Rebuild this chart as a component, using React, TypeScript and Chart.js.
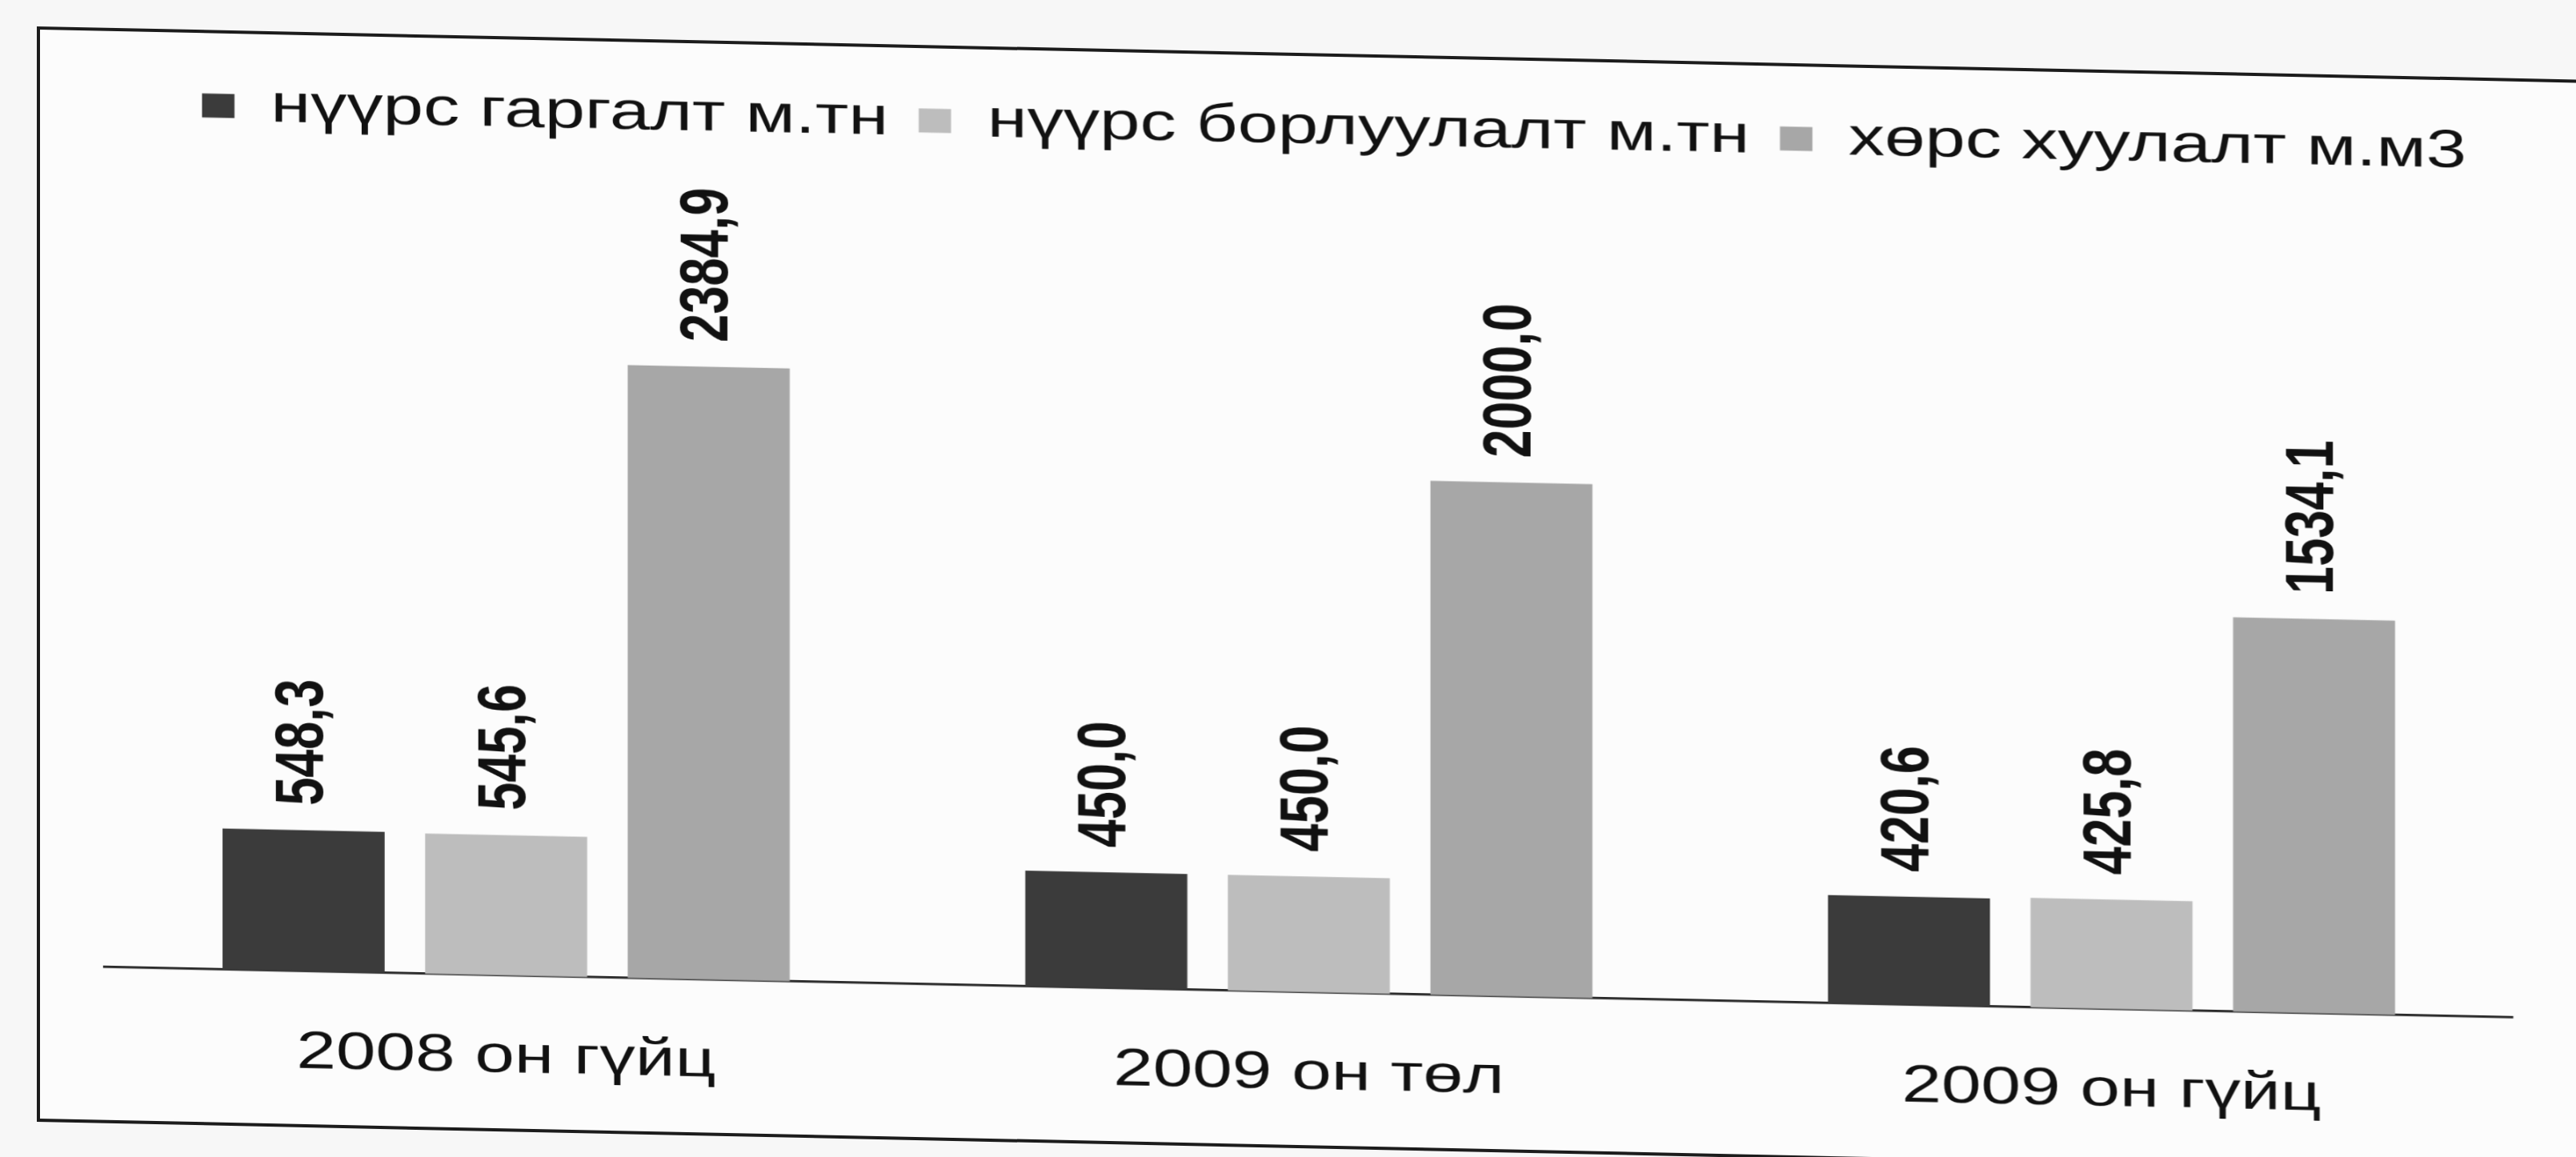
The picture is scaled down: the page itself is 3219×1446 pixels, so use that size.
import React, { useEffect, useRef } from "react";
import { Chart, registerables } from "chart.js";

Chart.register(...registerables);

// ---- data ----
const categories = ["2008 он гүйц", "2009 он төл", "2009 он гүйц"];
const seriesNames = ["нүүрс гаргалт м.тн", "нүүрс борлуулалт м.тн", "хөрс хуулалт м.м3"];
const coalMined = [548.3, 450.0, 420.6];
const coalSold = [545.6, 450.0, 425.8];
const soilRemoved = [2384.9, 2000.0, 1534.1];
const seriesColors = ["#3b3b3b", "#bdbdbd", "#a7a7a7"];

// ---- page / scan geometry ----
const PAGE_W = 3219;
const PAGE_H = 1446;
const STRETCH_X = 1.35; // the scan is stretched horizontally
const SKEW_DEG = 1.2; // and slightly skewed
const DESIGN_W = Math.round(PAGE_W / STRETCH_X);
const FONT = "'Liberation Sans', Arial, sans-serif";

const valueLabels = {
  id: "valueLabels",
  afterDatasetsDraw(chart: any) {
    const ctx = chart.ctx;
    ctx.save();
    ctx.font = `bold 63px ${FONT}`;
    ctx.fillStyle = "#111";
    ctx.textAlign = "left";
    ctx.textBaseline = "middle";
    chart.data.datasets.forEach((ds: any, di: number) => {
      const meta = chart.getDatasetMeta(di);
      meta.data.forEach((bar: any, i: number) => {
        const v = ds.data[i] as number;
        const txt = v.toFixed(1).replace(".", ",");
        ctx.save();
        ctx.translate(bar.x, bar.y - 31);
        ctx.rotate(-Math.PI / 2);
        ctx.fillText(txt, 0, 0);
        ctx.restore();
      });
    });
    ctx.restore();
  },
};

export default function App() {
  const ref = useRef<HTMLCanvasElement>(null);

  useEffect(() => {
    const chart = new Chart(ref.current as HTMLCanvasElement, {
      type: "bar",
      data: {
        labels: categories,
        datasets: [
          { label: seriesNames[0], data: coalMined, backgroundColor: seriesColors[0], borderWidth: 0 },
          { label: seriesNames[1], data: coalSold, backgroundColor: seriesColors[1], borderWidth: 0 },
          { label: seriesNames[2], data: soilRemoved, backgroundColor: seriesColors[2], borderWidth: 0 },
        ],
      },
      options: {
        responsive: true,
        maintainAspectRatio: false,
        animation: false,
        devicePixelRatio: 1.5,
        datasets: { bar: { categoryPercentage: 0.757, barPercentage: 0.8 } },
        layout: { padding: { left: 97, right: 11, top: 65, bottom: 35 } },
        plugins: {
          legend: {
            position: "top",
            labels: {
              font: { family: FONT, size: 67 },
              color: "#111",
              boxWidth: 30,
              boxHeight: 30,
              padding: 28,
            },
          },
          tooltip: { enabled: false },
        },
        scales: {
          x: {
            grid: { display: false, drawTicks: false },
            border: { display: true, color: "#2a2a2a", width: 3 },
            ticks: { font: { family: FONT, size: 66 }, color: "#111", padding: 63 },
          },
          y: {
            position: "right",
            display: true,
            min: 0,
            max: 3225,
            grid: { display: false, drawTicks: false },
            border: { display: false },
            ticks: { display: false },
            afterFit: (scale: any) => {
              scale.width = 47;
            },
          },
        },
      } as any,
      plugins: [valueLabels],
    });
    return () => chart.destroy();
  }, []);

  return (
    <div
      style={{
        position: "fixed",
        left: 0,
        top: 0,
        width: PAGE_W,
        height: PAGE_H,
        overflow: "hidden",
        background: "#f7f7f7",
      }}
    >
      <div
        style={{
          position: "absolute",
          left: 0,
          top: 0,
          width: PAGE_W,
          height: PAGE_H,
          transformOrigin: "0 0",
          transform: `skewY(${SKEW_DEG}deg)`,
        }}
      >
        <div
          style={{
            position: "absolute",
            left: 46,
            top: 32,
            width: 3400,
            height: 1369,
            border: "4px solid #1c1c1c",
            background: "#fcfcfc",
            boxSizing: "border-box",
          }}
        />
        <div
          style={{
            position: "absolute",
            left: 0,
            top: 0,
            width: DESIGN_W,
            height: PAGE_H,
            transformOrigin: "0 0",
            transform: `scaleX(${STRETCH_X})`,
          }}
        >
          <canvas ref={ref} />
        </div>
      </div>
    </div>
  );
}
